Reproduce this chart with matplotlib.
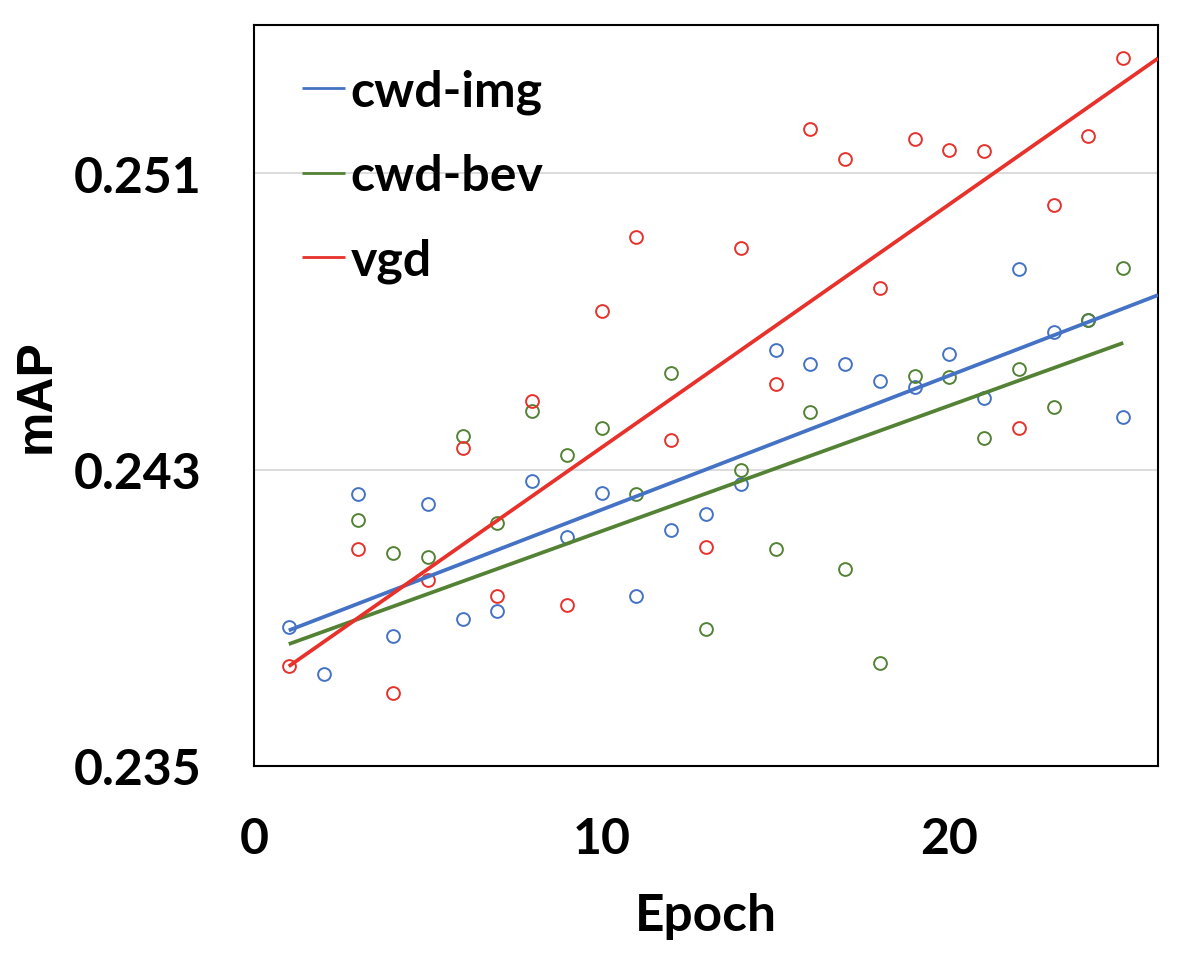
import matplotlib
matplotlib.use("Agg")
import matplotlib.pyplot as plt
import numpy as np

# ---- data ----
epochs_img = [1, 2, 3, 4, 5, 6, 7, 8, 9, 10, 11, 12, 13, 14, 15, 16, 17, 18, 19, 20, 21, 22, 23, 24, 25]
map_img = [0.23874, 0.23748, 0.24233, 0.23850, 0.24206, 0.23896, 0.23918, 0.24270, 0.24117, 0.24238,
           0.23958, 0.24136, 0.24179, 0.24262, 0.24623, 0.24586, 0.24586, 0.24540, 0.24524, 0.24612,
           0.24494, 0.24841, 0.24672, 0.24704, 0.24443]

epochs_bev = [3, 4, 5, 6, 7, 8, 9, 10, 11, 12, 13, 14, 15, 16, 17, 18, 19, 20, 21, 22, 23, 24, 25]
map_bev = [0.24163, 0.24076, 0.24063, 0.24392, 0.24157, 0.24459, 0.24340, 0.24413, 0.24235, 0.24561,
           0.23869, 0.24300, 0.24085, 0.24456, 0.24031, 0.23777, 0.24553, 0.24551, 0.24386, 0.24572,
           0.24470, 0.24704, 0.24844]

epochs_vgd = [1, 3, 4, 5, 6, 7, 8, 9, 10, 11, 12, 13, 14, 15, 16, 17, 18, 19, 20, 21, 22, 23, 24, 25]
map_vgd = [0.23769, 0.24085, 0.23697, 0.24001, 0.24359, 0.23958, 0.24486, 0.23934, 0.24728, 0.24928,
           0.24381, 0.24090, 0.24898, 0.24532, 0.25219, 0.25138, 0.24790, 0.25192, 0.25162, 0.25159,
           0.24413, 0.25014, 0.25200, 0.25410]

# linear trend lines (start/end epoch and value)
trend_img_x = [1, 26]
trend_img_y = [0.23866, 0.24771]
trend_bev_x = [1, 25]
trend_bev_y = [0.23829, 0.24642]
trend_vgd_x = [1, 26]
trend_vgd_y = [0.23769, 0.25410]

series_labels = ["cwd-img", "cwd-bev", "vgd"]
x_ticks = [0, 10, 20]
y_ticks = [0.235, 0.243, 0.251]
y_tick_labels = ["0.235", "0.243", "0.251"]

# ---- styling ----
c_img = "#4472C4"
c_bev = "#548235"
c_vgd = "#E8312A"

fig = plt.figure(figsize=(11.92, 9.54), dpi=100)
ax = fig.add_axes([254 / 1192, 1 - 767 / 954, (1158 - 254) / 1192, (767 - 26) / 954])

ax.set_xlim(0, 26)
ax.set_ylim(0.235, 0.255)

for yv in y_ticks[1:]:
    ax.axhline(yv, color="#D9D9D9", lw=1.3, zorder=0)

mk = dict(linestyle="none", marker="o", markerfacecolor="none", markersize=9.2, markeredgewidth=1.4)
ax.plot(epochs_img, map_img, color=c_img, zorder=3, **mk)
ax.plot(epochs_bev, map_bev, color=c_bev, zorder=3, **mk)
ax.plot(epochs_vgd, map_vgd, color=c_vgd, zorder=3, **mk)

ax.plot(trend_img_x, trend_img_y, color=c_img, lw=2.7, label=series_labels[0], zorder=4,
        solid_capstyle="butt")
ax.plot(trend_bev_x, trend_bev_y, color=c_bev, lw=2.7, label=series_labels[1], zorder=4,
        solid_capstyle="butt")
ax.plot(trend_vgd_x, trend_vgd_y, color=c_vgd, lw=2.7, label=series_labels[2], zorder=4,
        solid_capstyle="butt")

ax.set_xticks(x_ticks)
ax.set_xticklabels([str(t) for t in x_ticks], fontfamily="Lato", fontweight="bold", fontsize=36)
ax.set_yticks(y_ticks)
ax.set_yticklabels(y_tick_labels, fontfamily="Lato", fontweight="bold", fontsize=36)
ax.tick_params(axis="both", length=0)
ax.tick_params(axis="y", pad=38)
ax.tick_params(axis="x", pad=36)

for s in ax.spines.values():
    s.set_color("black")
    s.set_linewidth(1.5)

ax.set_xlabel("Epoch", fontfamily="Lato", fontweight="bold", fontsize=37, labelpad=22)
ax.set_ylabel("mAP", fontfamily="Liberation Sans", fontweight="bold", fontsize=36, labelpad=10)

leg = ax.legend(loc="upper left", frameon=False, prop=dict(family="Lato", weight="bold", size=36),
                handlelength=0.86, handletextpad=0.12, labelspacing=0.78,
                borderaxespad=0.3, bbox_to_anchor=(0.014, 0.988))
for h in leg.get_lines():
    h.set_linewidth(2.0)

fig.savefig("out.png", dpi=100)
